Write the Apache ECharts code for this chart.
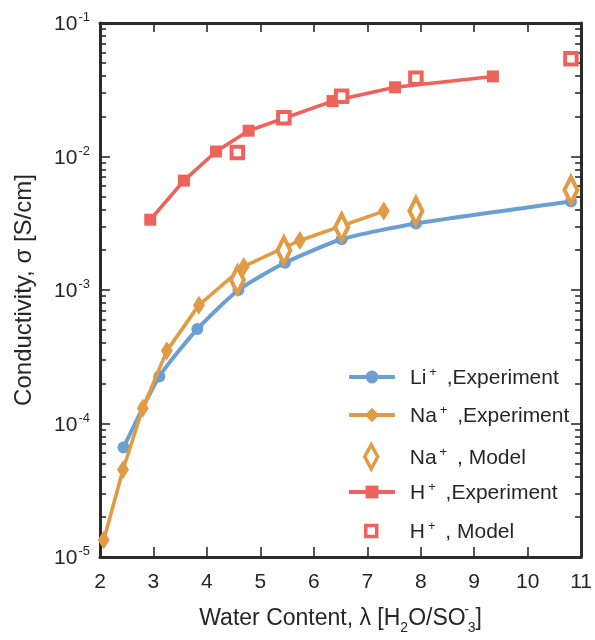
<!DOCTYPE html>
<html>
<head>
<meta charset="utf-8">
<script src="https://cdn.jsdelivr.net/npm/echarts@6/dist/echarts.min.js"></script>
<style>
  html, body { margin: 0; padding: 0; background: #fff; }
  #chart { width: 595px; height: 640px; }
</style>
</head>
<body>
<div id="chart"></div>
<script>
// Water content (lambda) and conductivity (S/cm) for each ion series
const liX = [2.44, 3.11, 3.82, 4.59, 5.46, 6.52, 7.91, 10.81];
const liY = [6.6e-5, 2.25e-4, 5.1e-4, 1.0e-3, 1.6e-3, 2.4e-3, 3.15e-3, 4.6e-3];

const naExpX = [2.07, 2.43, 2.80, 3.25, 3.85, 4.69, 5.74, 7.31];
const naExpY = [1.34e-5, 4.5e-5, 1.3e-4, 3.5e-4, 7.7e-4, 1.5e-3, 2.35e-3, 3.9e-3];

const naModelX = [4.57, 5.44, 6.52, 7.91, 10.81];
const naModelY = [1.19e-3, 1.98e-3, 2.95e-3, 3.9e-3, 5.6e-3];

const hExpX = [2.94, 3.57, 4.17, 4.78, 6.35, 7.52, 9.35];
const hExpY = [3.36e-3, 6.6e-3, 1.09e-2, 1.56e-2, 2.6e-2, 3.3e-2, 3.98e-2];

const hModelX = [4.57, 5.44, 6.52, 7.91, 10.81];
const hModelY = [1.07e-2, 1.95e-2, 2.83e-2, 3.85e-2, 5.4e-2];

// Axis ranges and tick values
const xMin = 2, xMax = 11, xStep = 1;
const yMin = 1e-5, yMax = 1e-1;
const yDecades = [1e-5, 1e-4, 1e-3, 1e-2];
const yMinorTicks = [];
yDecades.forEach(d => { for (let m = 2; m <= 9; m++) yMinorTicks.push(+(m * d).toPrecision(3)); });

const seriesNames = ['Li+ ,Experiment', 'Na+ ,Experiment', 'Na+ , Model', 'H+ ,Experiment', 'H+ , Model'];

const pairs = (xs, ys) => xs.map((x, i) => [x, ys[i]]);

const FONT = '"Liberation Sans", Arial, sans-serif';
const INK = '#2b2b2b';
const TEXT = '#262626';
const BLUE = '#6b9fd4';
const ORANGE = '#e19b45';
const RED = '#ee625c';

const frameLine = { show: true, onZero: false, lineStyle: { color: INK, width: 3 } };
const tickStyle = { color: INK, width: 1.6 };

function yFrame(position, major) {
  return {
    type: 'log', logBase: 10, min: yMin, max: yMax, position,
    axisLine: major ? frameLine : { show: false },
    axisTick: major
      ? { show: true, inside: true, length: 10, lineStyle: tickStyle }
      : { show: true, inside: true, length: 6, lineStyle: tickStyle, customValues: yMinorTicks },
    axisLabel: { show: false },
    splitLine: { show: false }, minorTick: { show: false }
  };
}

const legendText = {
  fontFamily: FONT, color: TEXT,
  rich: {
    n: { fontFamily: FONT, fontSize: 21, color: TEXT, lineHeight: 24, verticalAlign: 'bottom' },
    s: { fontFamily: FONT, fontSize: 13, color: TEXT, padding: [0, 4, 10, 3], verticalAlign: 'bottom' }
  }
};
function legendLabel(name) {
  const i = name.indexOf('+');
  return '{n|' + name.slice(0, i) + '}{s|+}{n|' + name.slice(i + 1) + '}';
}
function legendRow(name, centerY, left, w, h, pad, border) {
  return {
    data: [name], orient: 'vertical', left, top: centerY - 12, padding: 0,
    itemWidth: w, itemHeight: h, symbolKeepAspect: false,
    lineStyle: { width: 4 },
    itemStyle: { borderWidth: border },
    formatter: legendLabel,
    textStyle: Object.assign({ padding: [0, 0, 0, pad] }, legendText)
  };
}

const option = {
  animation: false,
  backgroundColor: '#fff',
  textStyle: { fontFamily: FONT },
  grid: { left: 100, right: 9, top: 23, bottom: 77, containLabel: false },
  legend: [
    legendRow(seriesNames[0], 378, 347, 46, 16, 10, 0),
    legendRow(seriesNames[1], 416, 347, 46, 18, 10, 0),
    legendRow(seriesNames[2], 455, 363, 13, 24, 27, 3.5),
    legendRow(seriesNames[3], 493, 347, 46, 16, 10, 0),
    legendRow(seriesNames[4], 532, 364, 11, 11, 28, 3.5)
  ],
  xAxis: [
    {
      type: 'value', min: xMin, max: xMax, interval: xStep, position: 'bottom',
      axisLine: frameLine,
      axisTick: { show: true, inside: true, length: 10, lineStyle: tickStyle },
      axisLabel: { fontFamily: FONT, fontSize: 21, color: TEXT, margin: 15 },
      splitLine: { show: false },
      name: '{a|Water Content, λ [H}{sb|2}{a|O/SO}{sm|-}{sb|3}{a|]}',
      nameLocation: 'middle', nameGap: 46,
      nameTextStyle: {
        rich: {
          a: { fontFamily: FONT, fontSize: 23, color: TEXT, padding: [0, 0, 5, 0], verticalAlign: 'bottom' },
          sb: { fontFamily: FONT, fontSize: 14, color: TEXT, verticalAlign: 'bottom' },
          sm: { fontFamily: FONT, fontSize: 14, color: TEXT, width: 2, padding: [0, 0, 18, 0], verticalAlign: 'bottom' }
        }
      }
    },
    {
      type: 'value', min: xMin, max: xMax, interval: xStep, position: 'top',
      axisLine: frameLine,
      axisTick: { show: true, inside: true, length: 9, lineStyle: tickStyle },
      axisLabel: { show: false }, splitLine: { show: false }
    }
  ],
  yAxis: [
    Object.assign(yFrame('left', true), {
      axisLabel: {
        show: true, margin: 10,
        formatter: v => '{b|10}{e|' + Math.round(Math.log10(v)) + '}',
        rich: {
          b: { fontFamily: FONT, fontSize: 21, color: TEXT, verticalAlign: 'bottom' },
          e: { fontFamily: FONT, fontSize: 13, color: TEXT, padding: [0, 0, 11, 1], verticalAlign: 'bottom' }
        }
      },
      name: 'Conductivity, σ [S/cm]', nameLocation: 'middle', nameGap: 64, nameRotate: 90,
      nameTextStyle: { fontFamily: FONT, fontSize: 24, color: TEXT }
    }),
    yFrame('left', false),
    yFrame('right', true),
    yFrame('right', false)
  ],
  series: [
    {
      name: seriesNames[0], type: 'line', data: pairs(liX, liY), smooth: 0.2,
      symbol: 'circle', symbolSize: 12, showAllSymbol: true,
      lineStyle: { color: BLUE, width: 4 }, itemStyle: { color: BLUE }, z: 2
    },
    {
      name: seriesNames[1], type: 'line', data: pairs(naExpX, naExpY),
      symbol: 'diamond', symbolSize: [12, 19], showAllSymbol: true,
      lineStyle: { color: ORANGE, width: 3.6 }, itemStyle: { color: ORANGE }, z: 3
    },
    {
      name: seriesNames[2], type: 'scatter', data: pairs(naModelX, naModelY),
      symbol: 'diamond', symbolSize: [13, 26],
      itemStyle: { color: '#fff', opacity: 1, borderColor: ORANGE, borderWidth: 4.5 }, z: 5
    },
    {
      name: seriesNames[3], type: 'line', data: pairs(hExpX, hExpY),
      symbol: 'rect', symbolSize: 12, showAllSymbol: true,
      lineStyle: { color: RED, width: 3.6 }, itemStyle: { color: RED }, z: 3
    },
    {
      name: seriesNames[4], type: 'scatter', data: pairs(hModelX, hModelY),
      symbol: 'rect', symbolSize: 11.5,
      itemStyle: { color: '#fff', opacity: 1, borderColor: RED, borderWidth: 4 }, z: 5
    }
  ]
};

const chart = echarts.init(document.getElementById('chart'), null, { renderer: 'canvas' });
chart.setOption(option);
</script>
</body>
</html>
